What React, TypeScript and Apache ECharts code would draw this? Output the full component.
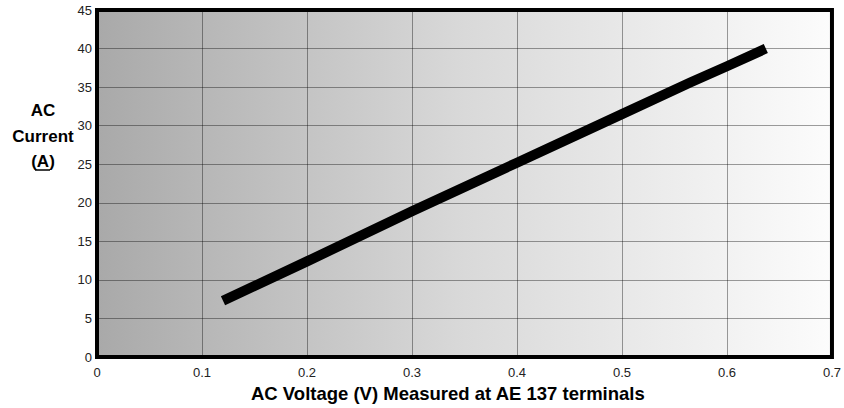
import React, { useEffect, useRef } from "react";
import * as echarts from "echarts";

const voltage = [0.12, 0.2, 0.3, 0.4, 0.5, 0.565, 0.6, 0.637];
const current = [7.3, 12.4, 18.9, 25.2, 31.5, 35.6, 37.7, 40.0];
const xTicks = { min: 0, max: 0.7, interval: 0.1 };
const yTicks = { min: 0, max: 45, interval: 5 };
const xTitle = "AC Voltage (V) Measured at AE 137 terminals";
const yTitleLines = ["AC", "Current", "(A)"];

export default function App() {
  const ref = useRef<HTMLDivElement>(null);
  useEffect(() => {
    if (!ref.current) return;
    const chart = echarts.init(ref.current, null, { renderer: "svg" });
    const narrow = "'Liberation Sans Narrow', 'Liberation Sans', Arial, sans-serif";
    const bold = "'Liberation Sans', Arial, sans-serif";
    chart.setOption({
      animation: false,
      grid: {
        left: 97,
        right: 8,
        top: 10,
        bottom: 51,
        show: true,
        borderColor: "#000",
        borderWidth: 4,
        backgroundColor: new echarts.graphic.LinearGradient(0, 0, 1, 0, [
          { offset: 0, color: "#a9a9a9" },
          { offset: 0.5, color: "#d9d9d9" },
          { offset: 1, color: "#fcfcfc" },
        ]),
      },
      xAxis: {
        type: "value",
        min: xTicks.min,
        max: xTicks.max,
        interval: xTicks.interval,
        axisLine: { show: false },
        axisTick: { show: false },
        axisLabel: {
          color: "#222",
          fontFamily: narrow,
          fontSize: 13,
          margin: 9,
          formatter: (v: number) => String(Math.round(v * 10) / 10),
        },
        splitLine: { show: true, lineStyle: { color: "rgba(0,0,0,0.38)", width: 1 } },
      },
      yAxis: {
        type: "value",
        min: yTicks.min,
        max: yTicks.max,
        interval: yTicks.interval,
        axisLine: { show: false },
        axisTick: { show: false },
        axisLabel: { color: "#222", fontFamily: narrow, fontSize: 13, margin: 5 },
        splitLine: { show: true, lineStyle: { color: "rgba(0,0,0,0.38)", width: 1 } },
      },
      graphic: [
        {
          type: "text",
          x: 251,
          y: 384,
          style: {
            text: xTitle,
            font: `bold 18.5px ${bold}`,
            fill: "#000",
          },
        },
        ...yTitleLines.map((t, i) => ({
          type: "text",
          x: 43,
          y: [110, 136, 161][i],
          style: {
            text: t,
            font: `bold 17px ${bold}`,
            fill: "#000",
            align: "center",
            verticalAlign: "middle",
          },
        })),
        {
          type: "line",
          shape: { x1: 35, y1: 170, x2: 50, y2: 170 },
          style: { stroke: "#000", lineWidth: 1.5 },
        },
      ],
      series: [
        {
          type: "line",
          data: voltage.map((v, i) => [v, current[i]]),
          showSymbol: false,
          lineStyle: { color: "#000", width: 10, cap: "butt", join: "round" },
        },
      ],
    });
    return () => chart.dispose();
  }, []);
  return <div ref={ref} style={{ width: 844, height: 408, position: "absolute", left: 0, top: 0 }} />;
}
